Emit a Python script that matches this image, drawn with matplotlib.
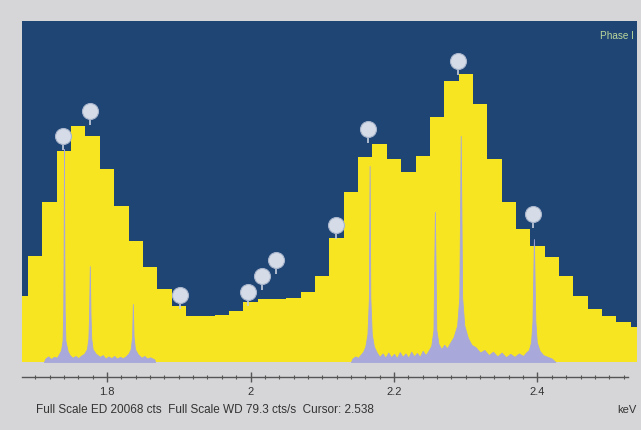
import matplotlib
matplotlib.use("Agg")
import matplotlib.pyplot as plt
import numpy as np

plt.rcParams['font.family'] = ['Liberation Sans', 'DejaVu Sans']

# ---------------- data ----------------
# ED spectrum: 0.02 keV bins (centre keV, counts)
ed_kev = [1.68, 1.70, 1.72, 1.74, 1.76, 1.78, 1.80, 1.82, 1.84, 1.86,
          1.88, 1.90, 1.92, 1.94, 1.96, 1.98, 2.00, 2.02, 2.04, 2.06,
          2.08, 2.10, 2.12, 2.14, 2.16, 2.18, 2.20, 2.22, 2.24, 2.26,
          2.28, 2.30, 2.32, 2.34, 2.36, 2.38, 2.40, 2.42, 2.44, 2.46,
          2.48, 2.50, 2.52, 2.54]
ed_counts = [3884, 6238, 9416, 12417, 13889, 13300, 11358, 9181, 7121, 5591,
             4296, 3296, 2707, 2707, 2766, 3001, 3531, 3708, 3708, 3766,
             4120, 5061, 7297, 10005, 12064, 12829, 11947, 11182, 12123, 14418,
             16537, 16949, 15183, 11947, 9416, 7827, 6827, 6179, 5061, 3884,
             3119, 2707, 2354, 2060]

# WD spectrum, scan 1 (keV, cts/s)
wd1_kev = [1.712, 1.714, 1.718, 1.722, 1.726, 1.730, 1.733, 1.736, 1.738, 1.739,
           1.7395, 1.740, 1.7405, 1.741, 1.742, 1.745, 1.748, 1.752, 1.756, 1.760,
           1.764, 1.768, 1.772, 1.774, 1.775, 1.776, 1.777, 1.778, 1.780, 1.784,
           1.790, 1.794, 1.798, 1.802, 1.806, 1.810, 1.814, 1.818, 1.822, 1.826,
           1.830, 1.833, 1.835, 1.836, 1.837, 1.839, 1.843, 1.848, 1.852, 1.856,
           1.860, 1.866, 1.867]
wd1_cps = [0.0, 0.8, 1.3, 0.7, 1.2, 1.0, 1.8, 2.8, 5.0, 12.0,
           25.0, 49.5, 25.0, 12.0, 5.0, 2.6, 1.6, 1.0, 1.4, 0.9,
           1.5, 1.9, 3.0, 5.5, 11.0, 22.3, 11.0, 5.5, 3.0, 2.0,
           1.2, 1.6, 0.8, 1.3, 0.9, 1.4, 0.8, 1.2, 0.9, 1.3,
           2.0, 3.0, 6.0, 13.5, 6.0, 3.0, 1.8, 1.0, 1.4, 0.8,
           1.1, 0.6, 0.0]

# WD spectrum, scan 2 (keV, cts/s)
wd2_kev = [2.140, 2.142, 2.146, 2.150, 2.154, 2.157, 2.160, 2.163, 2.165, 2.166,
           2.167, 2.169, 2.172, 2.176, 2.180, 2.184, 2.188, 2.192, 2.196, 2.200,
           2.204, 2.208, 2.212, 2.216, 2.220, 2.224, 2.228, 2.232, 2.236, 2.240,
           2.244, 2.248, 2.252, 2.255, 2.257, 2.259, 2.262, 2.266, 2.270, 2.274,
           2.278, 2.283, 2.288, 2.291, 2.293, 2.295, 2.298, 2.303, 2.308, 2.314,
           2.320, 2.326, 2.332, 2.338, 2.344, 2.350, 2.356, 2.362, 2.368, 2.374,
           2.380, 2.384, 2.388, 2.391, 2.393, 2.395, 2.397, 2.399, 2.403, 2.408,
           2.414, 2.420, 2.425]
wd2_cps = [0.0, 0.8, 1.3, 1.0, 1.8, 2.4, 3.6, 6.5, 15.0, 45.6,
           15.0, 6.5, 3.6, 2.2, 1.2, 2.0, 1.0, 2.2, 1.1, 1.9,
           0.9, 2.3, 1.2, 2.0, 1.0, 2.4, 1.3, 2.1, 1.2, 2.6,
           1.6, 2.6, 3.8, 7.5, 34.9, 7.5, 4.2, 3.0, 4.0, 3.2,
           4.4, 5.8, 8.5, 15.0, 52.6, 15.0, 8.5, 5.6, 4.0, 3.4,
           2.2, 2.8, 1.6, 2.4, 1.3, 2.2, 1.1, 1.9, 1.2, 2.0,
           1.4, 2.2, 2.8, 4.6, 9.5, 28.6, 9.5, 4.6, 2.6, 1.6,
           1.2, 0.8, 0.0]

# peak label markers (keV, counts)
label_kev = [1.739, 1.776, 1.902, 1.997, 2.016, 2.036, 2.119, 2.164, 2.289, 2.394]
label_counts = [13300, 14771, 3943, 4120, 5061, 6003, 8062, 13712, 17714, 8710]

tick_major = [1.8, 2.0, 2.2, 2.4]
tick_labels = ["1.8", "2", "2.2", "2.4"]

ED_FULL = 20068
WD_FULL = 79.3
XMIN, XMAX = 1.6815, 2.5387

# ---------------- figure ----------------
W, H = 641, 431
fig = plt.figure(figsize=(W / 100, H / 100), dpi=100)
fig.patch.set_facecolor('#d6d6d8')

BLUE = '#1f4575'
YELLOW = '#f8e522'
LAV = '#a8a8da'

ax = fig.add_axes([22 / W, (H - 363) / H, 615 / W, 341 / H])
ax.set_facecolor(BLUE)
ax.bar(ed_kev, ed_counts, width=0.02, color=YELLOW, linewidth=0, zorder=2)
ax.set_xlim(XMIN, XMAX)
ax.set_ylim(0, ED_FULL)
for s in ax.spines.values():
    s.set_visible(False)
ax.set_xticks([])
ax.set_yticks([])

ax2 = ax.twinx()
ax2.set_ylim(0, WD_FULL)
ax2.fill_between(wd1_kev, wd1_cps, 0, color=LAV, linewidth=0.6, edgecolor=LAV, zorder=3)
ax2.fill_between(wd2_kev, wd2_cps, 0, color=LAV, linewidth=0.6, edgecolor=LAV, zorder=3)
ax2.set_xlim(XMIN, XMAX)
for s in ax2.spines.values():
    s.set_visible(False)
ax2.set_yticks([])

# label bubbles
for xk, yc in zip(label_kev, label_counts):
    ax2.plot([xk, xk], [yc / ED_FULL * WD_FULL - 3.2, yc / ED_FULL * WD_FULL - 1.6],
             color='#c8d0de', lw=1.2, zorder=5, solid_capstyle='butt')
ax2.plot(label_kev, [c / ED_FULL * WD_FULL for c in label_counts], 'o',
         ms=11.5, mfc='#d5dce8', mec='#aab6cc', mew=0.8, zorder=6)

ax.text(0.995, 0.975, 'Phase I', transform=ax.transAxes, ha='right', va='top',
        fontsize=7.2, color='#b9d79a')

# axis with ticks
axt = fig.add_axes([22 / W, (H - 378) / H, 606 / W, 0.0001])
axt.patch.set_visible(False)
for k in ['top', 'left', 'right']:
    axt.spines[k].set_visible(False)
axt.spines['bottom'].set_color('#555555')
axt.spines['bottom'].set_linewidth(1.0)
axt.set_xlim(XMIN, XMIN + 606 / 615 * (XMAX - XMIN))
axt.set_yticks([])
axt.set_xticks(tick_major)
axt.set_xticklabels(tick_labels)
axt.set_xticks(np.arange(1.70, 2.521, 0.02), minor=True)
axt.tick_params(axis='x', which='major', direction='inout', length=7, width=1,
                color='#555555', labelsize=8, labelcolor='#333333', pad=3)
axt.tick_params(axis='x', which='minor', direction='inout', length=3.5, width=0.8,
                color='#555555')

fig.text(36 / W, 1 - 410 / H, 'Full Scale ED 20068 cts  Full Scale WD 79.3 cts/s  Cursor: 2.538',
         fontsize=8.5, color='#333333', ha='left', va='center')
fig.text(637 / W, 1 - 410 / H, 'keV', fontsize=8, color='#333333', ha='right', va='center')

fig.savefig('out.png', dpi=100, facecolor=fig.get_facecolor())
